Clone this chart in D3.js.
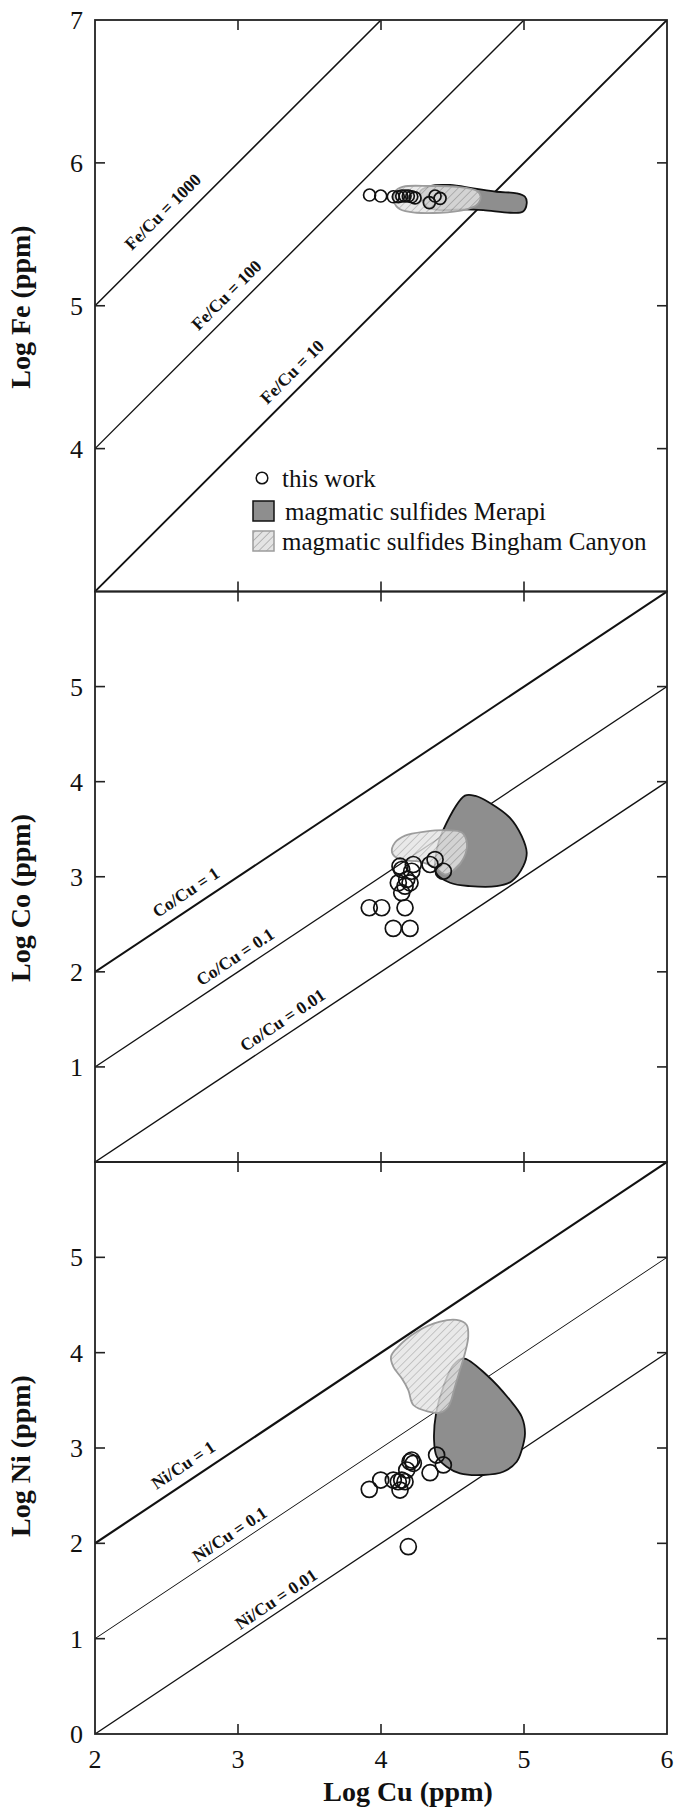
<!DOCTYPE html>
<html><head><meta charset="utf-8">
<script src="https://cdn.jsdelivr.net/npm/d3@7"></script>
<style>
html,body{margin:0;padding:0;background:#fff;}
svg{display:block;}
text{font-family:"Liberation Serif","Times New Roman",serif;fill:#111;}
</style></head>
<body>
<svg id="chart" width="676" height="1808"></svg>
<script>
// ---------- DATA ----------
const cuTicks = [2, 3, 4, 5, 6];
const feTicks = [4, 5, 6, 7];
const coTicks = [1, 2, 3, 4, 5];
const niTicks = [0, 1, 2, 3, 4, 5];

// this work samples (log Cu, log X)
const feSamplesCu = [3.92, 3.998, 4.086, 4.121, 4.145, 4.168, 4.191, 4.215, 4.238, 4.338, 4.378, 4.413];
const feSamplesFe = [5.775, 5.768, 5.763, 5.763, 5.768, 5.768, 5.768, 5.763, 5.755, 5.722, 5.768, 5.752];

const coSamplesCu = [3.918, 4.005, 4.168, 4.086, 4.203, 4.133, 4.145, 4.226, 4.215, 4.121, 4.18, 4.168, 4.145, 4.203, 4.378, 4.343, 4.436];
const coSamplesCo = [2.674, 2.674, 2.674, 2.457, 2.457, 3.111, 3.076, 3.129, 3.058, 2.936, 2.971, 2.901, 2.832, 2.936, 3.181, 3.129, 3.058];

const niSamplesCu = [3.918, 3.998, 4.086, 4.121, 4.145, 4.133, 4.168, 4.18, 4.203, 4.215, 4.226, 4.389, 4.343, 4.436, 4.191];
const niSamplesNi = [2.566, 2.664, 2.664, 2.646, 2.664, 2.559, 2.646, 2.769, 2.856, 2.874, 2.839, 2.926, 2.741, 2.822, 1.965];

// magmatic sulfides Merapi fields (outline vertices)
const merapiFeCu = [4.273, 4.343, 4.483, 4.646, 4.809, 4.949, 5.007, 5.019, 4.991, 4.902, 4.715, 4.576, 4.413, 4.32];
const merapiFe   = [5.798, 5.838, 5.845, 5.822, 5.798, 5.787, 5.763, 5.717, 5.658, 5.651, 5.67, 5.675, 5.67, 5.694];
const merapiCoCu = [4.587, 4.436, 4.39, 4.385, 4.483, 4.622, 4.809, 4.914, 4.995, 5.019, 4.984, 4.902, 4.762, 4.66];
const merapiCo   = [3.853, 3.496, 3.286, 3.041, 2.937, 2.901, 2.901, 2.953, 3.111, 3.251, 3.426, 3.619, 3.776, 3.85];
const merapiNiCu = [4.576, 4.739, 4.902, 4.984, 5.007, 4.984, 4.949, 4.855, 4.715, 4.552, 4.459, 4.39, 4.371, 4.385, 4.436, 4.506];
const merapiNi   = [3.941, 3.766, 3.503, 3.328, 3.154, 2.979, 2.856, 2.751, 2.717, 2.734, 2.804, 2.909, 3.084, 3.364, 3.643, 3.871];

// magmatic sulfides Bingham Canyon fields
const binghamFeCu = [4.098, 4.156, 4.343, 4.529, 4.669, 4.697, 4.669, 4.576, 4.413, 4.25, 4.133, 4.091];
const binghamFe   = [5.798, 5.833, 5.838, 5.833, 5.805, 5.763, 5.705, 5.67, 5.651, 5.651, 5.675, 5.728];
const binghamCoCu = [4.077, 4.098, 4.168, 4.308, 4.462, 4.566, 4.601, 4.58, 4.517, 4.448, 4.378, 4.273, 4.133];
const binghamCo   = [3.255, 3.36, 3.433, 3.475, 3.489, 3.465, 3.349, 3.202, 3.076, 3.024, 3.098, 3.16, 3.181];
const binghamNiCu = [4.11, 4.25, 4.413, 4.529, 4.599, 4.61, 4.587, 4.552, 4.517, 4.471, 4.413, 4.331, 4.226, 4.191, 4.145, 4.086, 4.07];
const binghamNi   = [4.046, 4.22, 4.325, 4.343, 4.29, 4.167, 3.993, 3.818, 3.643, 3.433, 3.37, 3.381, 3.451, 3.608, 3.731, 3.853, 3.958];

// ratio reference lines: log intercepts
const feRatioIntercepts = [3, 2, 1];
const feRatioLabels = ["Fe/Cu = 1000", "Fe/Cu = 100", "Fe/Cu = 10"];
const coRatioIntercepts = [0, -1, -2];
const coRatioLabels = ["Co/Cu = 1", "Co/Cu = 0.1", "Co/Cu = 0.01"];
const niRatioIntercepts = [0, -1, -2];
const niRatioLabels = ["Ni/Cu = 1", "Ni/Cu = 0.1", "Ni/Cu = 0.01"];

const legendLabels = ["this work", "magmatic sulfides Merapi", "magmatic sulfides Bingham Canyon"];

// ---------- LAYOUT ----------
const svg = d3.select("#chart");
const left = 95, right = 667;
const x = d3.scaleLinear().domain([2, 6]).range([left, right]);

const defs = svg.append("defs");
const pat = defs.append("pattern").attr("id", "hatch")
  .attr("patternUnits", "userSpaceOnUse").attr("width", 5.5).attr("height", 5.5)
  .attr("patternTransform", "rotate(45)");
pat.append("rect").attr("width", 5.5).attr("height", 5.5).attr("fill", "#e4e4e4");
pat.append("line").attr("x1", 0).attr("y1", 0).attr("x2", 0).attr("y2", 5.5)
  .attr("stroke", "#9a9a9a").attr("stroke-width", 1.3);

const panels = [
  { top: 20, bottom: 591.5, dom: [3, 7], ticks: feTicks, title: "Log Fe (ppm)", titleY: 307,
    sCu: feSamplesCu, sV: feSamplesFe, r: 6,
    mCu: merapiFeCu, mV: merapiFe, bCu: binghamFeCu, bV: binghamFe,
    ints: feRatioIntercepts, labs: feRatioLabels, lw: [1.5, 1.4, 1.9],
    labPos: [[162.7, 26.5], [226.3, 22.5], [292, 23]] },
  { top: 591.5, bottom: 1162, dom: [0, 6], ticks: coTicks, title: "Log Co (ppm)", titleY: 898,
    sCu: coSamplesCu, sV: coSamplesCo, r: 8,
    mCu: merapiCoCu, mV: merapiCo, bCu: binghamCoCu, bV: binghamCo,
    ints: coRatioIntercepts, labs: coRatioLabels, lw: [2, 1.3, 1.4],
    labPos: [[185.8, 19.4], [235, 17.1], [282.3, 17.5]] },
  { top: 1162, bottom: 1734, dom: [0, 6], ticks: niTicks, title: "Log Ni (ppm)", titleY: 1456,
    sCu: niSamplesCu, sV: niSamplesNi, r: 8,
    mCu: merapiNiCu, mV: merapiNi, bCu: binghamNiCu, bV: binghamNi,
    ints: niRatioIntercepts, labs: niRatioLabels, lw: [2.2, 1, 1.3],
    labPos: [[183.2, 19.7], [229.5, 14.9], [275.9, 14.4]] }
];

panels.forEach((p, pi) => {
  const y = d3.scaleLinear().domain(p.dom).range([p.bottom, p.top]);
  const g = svg.append("g");
  const clipId = "clip" + pi;
  defs.append("clipPath").attr("id", clipId).append("rect")
    .attr("x", left).attr("y", p.top).attr("width", right - left).attr("height", p.bottom - p.top);
  const inner = g.append("g").attr("clip-path", `url(#${clipId})`);

  // ratio lines
  p.ints.forEach((b, i) => {
    inner.append("line")
      .attr("x1", x(2)).attr("y1", y(2 + b))
      .attr("x2", x(6)).attr("y2", y(6 + b))
      .attr("stroke", "#111").attr("stroke-width", p.lw[i]);
  });
  // ratio labels
  const angle = -Math.atan2(y(p.dom[0]) - y(p.dom[0] + 1), x(3) - x(2)) * 180 / Math.PI;
  p.ints.forEach((b, i) => {
    const cx = p.labPos[i][0];
    const cu = x.invert(cx);
    const cy = y(cu + b) - p.labPos[i][1];
    g.append("text")
      .attr("transform", `translate(${cx},${cy}) rotate(${angle})`)
      .attr("text-anchor", "middle").attr("dy", "0.35em")
      .style("font-weight", "bold").style("font-size", "17.5px")
      .text(p.labs[i]);
  });

  const line = d3.line().x(d => x(d[0])).y(d => y(d[1])).curve(d3.curveCatmullRomClosed.alpha(0.5));
  const mPts = p.mCu.map((c, i) => [c, p.mV[i]]);
  const bPts = p.bCu.map((c, i) => [c, p.bV[i]]);
  inner.append("path").attr("d", line(mPts))
    .attr("fill", "#8e8e8e").attr("stroke", "#111").attr("stroke-width", 1.8);
  inner.append("path").attr("d", line(bPts))
    .attr("fill", "url(#hatch)").attr("fill-opacity", 0.8)
    .attr("stroke", "#9c9c9c").attr("stroke-width", 1.8);

  // samples
  inner.selectAll("circle.s").data(p.sCu.map((c, i) => [c, p.sV[i]])).join("circle")
    .attr("class", "s")
    .attr("cx", d => x(d[0])).attr("cy", d => y(d[1])).attr("r", p.r)
    .attr("fill", "none").attr("stroke", "#111").attr("stroke-width", 1.7);

  // frame
  g.append("rect").attr("x", left).attr("y", p.top).attr("width", right - left).attr("height", p.bottom - p.top)
    .attr("fill", "none").attr("stroke", "#222").attr("stroke-width", 1.8);

  // ticks
  const tl = 10;
  [3, 4, 5].forEach(t => {
    g.append("line").attr("x1", x(t)).attr("x2", x(t)).attr("y1", p.top).attr("y2", p.top + tl)
      .attr("stroke", "#222").attr("stroke-width", 1.6);
    g.append("line").attr("x1", x(t)).attr("x2", x(t)).attr("y1", p.bottom).attr("y2", p.bottom - tl)
      .attr("stroke", "#222").attr("stroke-width", 1.6);
  });
  p.ticks.forEach(t => {
    const yy = y(t);
    if (yy > p.top + 1 && yy < p.bottom - 1) {
      g.append("line").attr("x1", left).attr("x2", left + tl).attr("y1", yy).attr("y2", yy)
        .attr("stroke", "#222").attr("stroke-width", 1.6);
      g.append("line").attr("x1", right).attr("x2", right - tl).attr("y1", yy).attr("y2", yy)
        .attr("stroke", "#222").attr("stroke-width", 1.6);
    }
    g.append("text").attr("x", 83).attr("y", yy).attr("dy", "0.35em")
      .attr("text-anchor", "end").style("font-size", "26px").text(t);
  });

  // y title
  g.append("text").attr("transform", `translate(20,${p.titleY}) rotate(-90)`)
    .attr("text-anchor", "middle").attr("dy", "0.35em")
    .style("font-weight", "bold").style("font-size", "28px").text(p.title);

  if (pi === 2) {
    cuTicks.forEach(t => {
      g.append("text").attr("x", x(t)).attr("y", 1759).attr("dy", "0.35em")
        .attr("text-anchor", "middle").style("font-size", "26px").text(t);
    });
    g.append("text").attr("x", 408).attr("y", 1791).attr("dy", "0.35em")
      .attr("text-anchor", "middle").style("font-weight", "bold").style("font-size", "28px")
      .text("Log Cu (ppm)");
  }
});

// legend (panel 1)
const lg = svg.append("g");
lg.append("circle").attr("cx", 262).attr("cy", 478).attr("r", 5.8)
  .attr("fill", "none").attr("stroke", "#111").attr("stroke-width", 1.5);
lg.append("rect").attr("x", 253).attr("y", 501).attr("width", 21).attr("height", 20)
  .attr("fill", "#8e8e8e").attr("stroke", "#111").attr("stroke-width", 1.5);
lg.append("rect").attr("x", 253).attr("y", 531).attr("width", 21).attr("height", 20)
  .attr("fill", "url(#hatch)").attr("stroke", "#9c9c9c").attr("stroke-width", 1.5);
legendLabels.forEach((t, i) => {
  lg.append("text").attr("x", i === 1 ? 285 : 282).attr("y", [478, 511, 541][i]).attr("dy", "0.35em")
    .style("font-size", "25px").text(t);
});
</script>
</body></html>
